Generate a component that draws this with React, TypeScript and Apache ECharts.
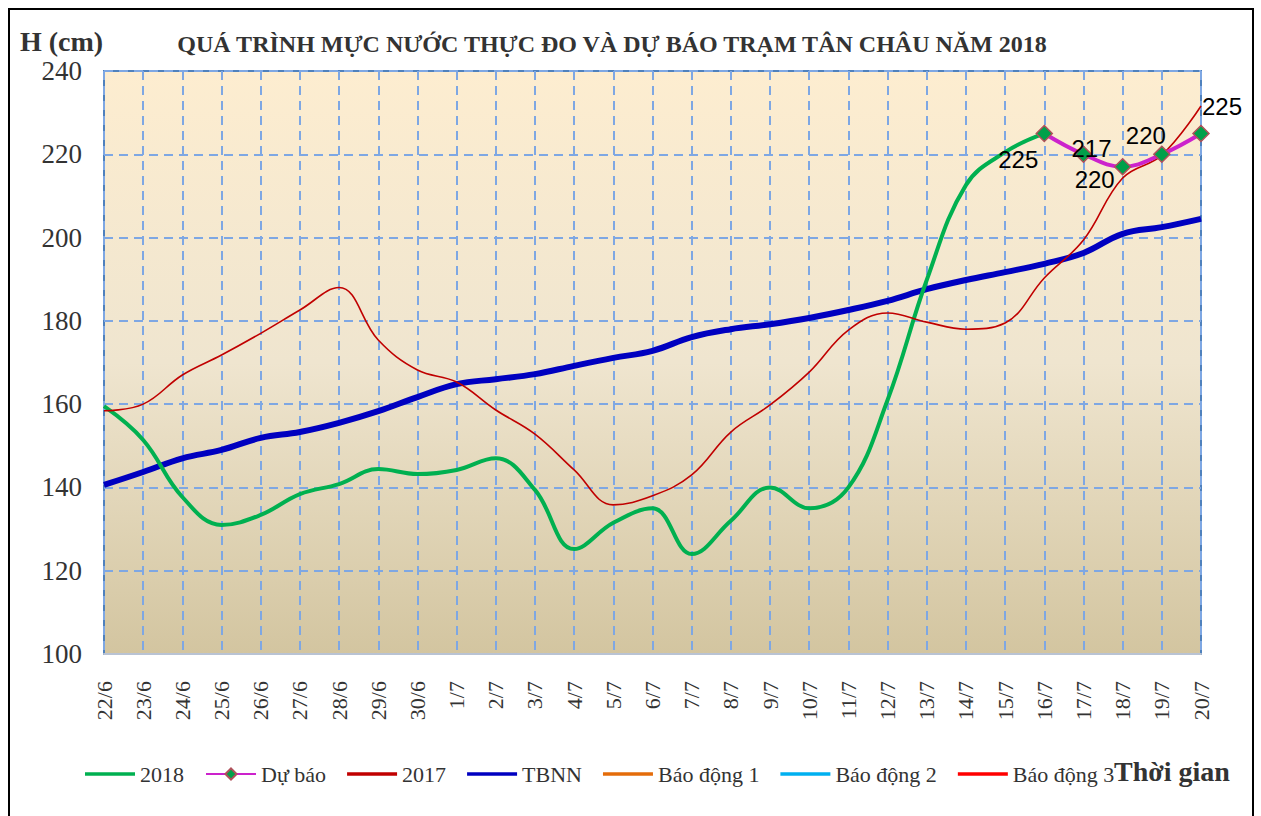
import React, { useEffect, useRef } from "react";
import * as echarts from "echarts";

const categories = [
  "22/6", "23/6", "24/6", "25/6", "26/6", "27/6", "28/6", "29/6", "30/6",
  "1/7", "2/7", "3/7", "4/7", "5/7", "6/7", "7/7", "8/7", "9/7", "10/7",
  "11/7", "12/7", "13/7", "14/7", "15/7", "16/7", "17/7", "18/7", "19/7", "20/7",
];

const data2018 = [
  159.5, 151.4, 137.7, 131, 133.4, 138.4, 140.8, 144.4, 143.2, 144.2, 147, 139.4,
  125.2, 131.5, 135, 124, 132, 140, 135, 140, 161, 189.8, 212.6, 220.5, 225,
];

const forecast = [225, 220, 217, 220, 225];
const forecastLabels = ["225", "217", "220", "220", "225"];
const forecastStart = 24;

const data2017 = [
  158.4, 160, 167, 171.8, 177, 182.6, 188, 175.4, 168.2, 165.3, 158.6, 152.8,
  144.2, 135.8, 138, 143, 153.3, 159.8, 167.7, 177.8, 181.9, 179.7, 178, 179.5,
  190.3, 199.4, 214.3, 219.8, 231.6,
];

const dataTBNN = [
  140.6, 143.7, 147, 149, 151.9, 153.3, 155.5, 158.3, 161.7, 164.8, 166, 167.2,
  169.2, 171.1, 172.8, 176.1, 178, 179.2, 180.7, 182.6, 184.8, 187.6, 189.8,
  191.7, 193.7, 196.3, 200.9, 202.5, 204.5,
];

const yMin = 100;
const yMax = 240;
const yStep = 20;

const labelOffsets: [number, number][] = [
  [-26, 26],
  [8, -6],
  [-28, 13],
  [-16, -19],
  [21, -27],
];

const SERIF = "'Liberation Serif', 'Times New Roman', serif";
const SANS = "'Liberation Sans', Arial, sans-serif";
const LINE_ICON = "path://M0,0L50,0L50,3.5L0,3.5Z";

export default function App() {
  const ref = useRef<HTMLDivElement>(null);
  useEffect(() => {
    document.body.style.margin = "0";
    document.body.style.overflow = "hidden";
    if (!ref.current) return;
    const chart = echarts.init(ref.current, undefined, { renderer: "svg" });

    const forecastData: any[] = categories.map(() => null);
    forecast.forEach((v, i) => {
      forecastData[forecastStart + i] = {
        value: v,
        label: {
          show: true,
          position: "inside",
          offset: labelOffsets[i],
          formatter: forecastLabels[i],
          fontSize: 24,
          fontFamily: SANS,
          color: "#000",
        },
      };
    });

    chart.setOption({
      animation: false,
      backgroundColor: "#fff",
      title: {
        text: "QUÁ TRÌNH MỰC NƯỚC THỰC ĐO VÀ DỰ BÁO TRẠM TÂN CHÂU NĂM 2018",
        left: 607,
        top: 27,
        textAlign: "center",
        textStyle: { fontFamily: SERIF, fontWeight: "bold", fontSize: 24, color: "#333" },
      },
      graphic: [
        {
          type: "rect",
          shape: { x: 9, y: 9, width: 1244, height: 830 },
          style: { fill: "none", stroke: "#000", lineWidth: 2 },
          silent: true,
        },
        {
          type: "text",
          x: 20,
          y: 27,
          style: { text: "H (cm)", font: `bold 28px ${SERIF}`, fill: "#333" },
        },
        {
          type: "text",
          x: 1114,
          y: 757,
          style: { text: "Thời gian", font: `bold 28px ${SERIF}`, fill: "#333" },
        },
      ],
      legend: {
        left: 80,
        top: 758,
        itemWidth: 50,
        itemHeight: 14,
        itemGap: 21,
        textStyle: { fontFamily: SERIF, fontSize: 22, color: "#333" },
        data: [
          { name: "2018", icon: LINE_ICON },
          { name: "Dự báo" },
          { name: "2017", icon: LINE_ICON },
          { name: "TBNN", icon: LINE_ICON },
          { name: "Báo động 1", icon: LINE_ICON },
          { name: "Báo động 2", icon: LINE_ICON },
          { name: "Báo động 3", icon: LINE_ICON },
        ],
      },
      grid: {
        left: 104,
        right: 60,
        top: 71,
        bottom: 162,
        show: true,
        borderColor: "#4f81bd",
        borderWidth: 2,
        backgroundColor: new echarts.graphic.LinearGradient(0, 0, 0, 1, [
          { offset: 0, color: "#fdedd0" },
          { offset: 0.5, color: "#efe5cf" },
          { offset: 1, color: "#d3c5a0" },
        ]),
      },
      xAxis: {
        type: "category",
        data: categories,
        boundaryGap: false,
        axisLine: { show: true, lineStyle: { color: "#b9c3d3", width: 2 } },
        axisTick: { show: false },
        axisLabel: {
          rotate: 90,
          interval: 0,
          margin: 27,
          fontFamily: SERIF,
          fontSize: 22,
          color: "#333",
        },
        splitLine: {
          show: true,
          interval: 0,
          lineStyle: { color: "#7ea7e3", width: 2, type: [9, 6] },
        },
      },
      yAxis: {
        type: "value",
        min: yMin,
        max: yMax,
        interval: yStep,
        axisLine: { show: false },
        axisTick: { show: false },
        axisLabel: { margin: 22, fontFamily: SERIF, fontSize: 27, color: "#333" },
        splitLine: {
          show: true,
          lineStyle: { color: "#7ea7e3", width: 2, type: [9, 6] },
        },
      },
      series: [
        {
          name: "2018",
          type: "line",
          data: data2018,
          smooth: 0.4,
          symbol: "none",
          lineStyle: { color: "#00b050", width: 4 },
          itemStyle: { color: "#00b050" },
          z: 3,
        },
        {
          name: "Dự báo",
          type: "line",
          data: forecastData,
          smooth: 0.4,
          symbol: "diamond",
          symbolSize: 16,
          lineStyle: { color: "#cc22cc", width: 4 },
          itemStyle: { color: "#00a04a", borderColor: "#b0505a", borderWidth: 1.5 },
          z: 6,
        },
        {
          name: "2017",
          type: "line",
          data: data2017,
          smooth: 0.4,
          symbol: "none",
          lineStyle: { color: "#c00000", width: 1.6 },
          itemStyle: { color: "#c00000" },
          z: 4,
        },
        {
          name: "TBNN",
          type: "line",
          data: dataTBNN,
          smooth: 0.4,
          symbol: "none",
          lineStyle: { color: "#0000c0", width: 6 },
          itemStyle: { color: "#0000c0" },
          z: 2,
        },
        {
          name: "Báo động 1",
          type: "line",
          data: [],
          symbol: "none",
          lineStyle: { color: "#e46c0a", width: 3 },
          itemStyle: { color: "#e46c0a" },
        },
        {
          name: "Báo động 2",
          type: "line",
          data: [],
          symbol: "none",
          lineStyle: { color: "#00b0f0", width: 3 },
          itemStyle: { color: "#00b0f0" },
        },
        {
          name: "Báo động 3",
          type: "line",
          data: [],
          symbol: "none",
          lineStyle: { color: "#ff0000", width: 3 },
          itemStyle: { color: "#ff0000" },
        },
      ],
    });
    return () => chart.dispose();
  }, []);
  return <div ref={ref} style={{ width: 1261, height: 816 }} />;
}
